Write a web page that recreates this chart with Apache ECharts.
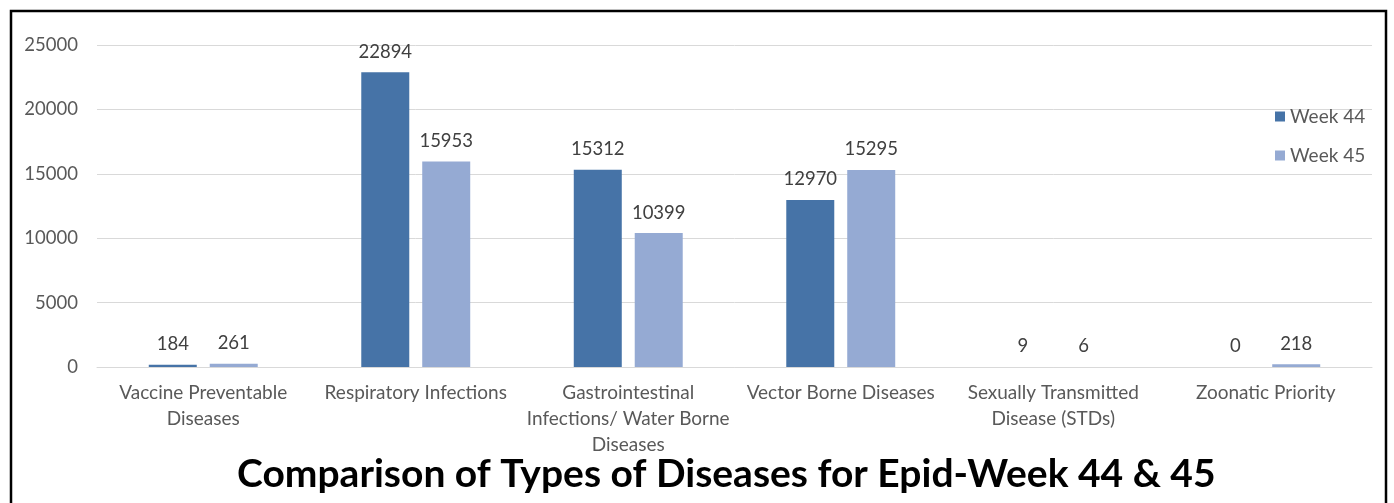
<!DOCTYPE html>
<html>
<head>
<meta charset="utf-8">
<title>Epid-Week 44 & 45</title>
<script src="https://cdn.jsdelivr.net/npm/echarts@6/dist/echarts.min.js"></script>
<style>
  html, body { margin: 0; padding: 0; background: #fff; }
  #chart { width: 1394px; height: 503px; }
</style>
</head>
<body>
<div id="chart"></div>
<script>
// categories (line breaks as in the original axis labels)
var categories = [
  'Vaccine Preventable\nDiseases',
  'Respiratory Infections',
  'Gastrointestinal\nInfections/ Water Borne\nDiseases',
  'Vector Borne Diseases',
  'Sexually Transmitted\nDisease (STDs)',
  'Zoonatic Priority'
]
var week44 = [184, 22894, 15312, 12970, 9, 0]
var week45 = [261, 15953, 10399, 15295, 6, 218]
var seriesNames = ['Week 44', 'Week 45']

var font = 'Lato, "Open Sans", sans-serif'
var labelOption = {
  show: true,
  position: 'top',
  distance: 11,
  color: '#404040',
  fontSize: 18.5,
  fontFamily: font
}

var myChart = echarts.init(document.getElementById('chart'))
myChart.setOption({
  animation: false,
  color: ['#4673a7', '#95aad3'],
  title: {
    text: 'Comparison of Types of Diseases for Epid-Week 44 & 45',
    left: 232,
    top: 450,
    textStyle: {
      color: '#000',
      fontSize: 39,
      fontWeight: 'bold',
      fontFamily: font
    }
  },
  legend: {
    orient: 'vertical',
    left: 1270,
    top: 102,
    itemWidth: 10,
    itemHeight: 10,
    itemGap: 20,
    icon: 'rect',
    data: seriesNames,
    textStyle: { color: '#595959', fontSize: 19, fontFamily: font }
  },
  grid: {
    left: 97,
    right: 22,
    top: 45,
    bottom: 136,
    containLabel: false
  },
  xAxis: {
    type: 'category',
    data: categories,
    axisTick: { show: false },
    axisLine: { lineStyle: { color: '#d9d9d9', width: 1 } },
    axisLabel: {
      interval: 0,
      margin: 13,
      color: '#595959',
      fontSize: 19,
      lineHeight: 26,
      fontFamily: font
    }
  },
  yAxis: {
    type: 'value',
    min: 0,
    max: 25000,
    interval: 5000,
    axisLine: { show: false },
    axisTick: { show: false },
    splitLine: { lineStyle: { color: '#d9d9d9', width: 1 } },
    axisLabel: {
      margin: 19,
      color: '#595959',
      fontSize: 18.5,
      fontFamily: font,
      formatter: function (v) { return String(v) }
    }
  },
  series: [
    {
      name: seriesNames[0],
      type: 'bar',
      barWidth: 48,
      barGap: '27%',
      label: labelOption,
      data: week44
    },
    {
      name: seriesNames[1],
      type: 'bar',
      barWidth: 48,
      label: labelOption,
      data: week45
    }
  ],
  graphic: [
    {
      type: 'rect',
      shape: { x: 11, y: 11, width: 1375, height: 500 },
      style: { fill: null, stroke: '#000', lineWidth: 2.5 },
      silent: true
    }
  ]
})
window.onresize = function () {
  myChart.resize()
}
</script>
</body>
</html>
